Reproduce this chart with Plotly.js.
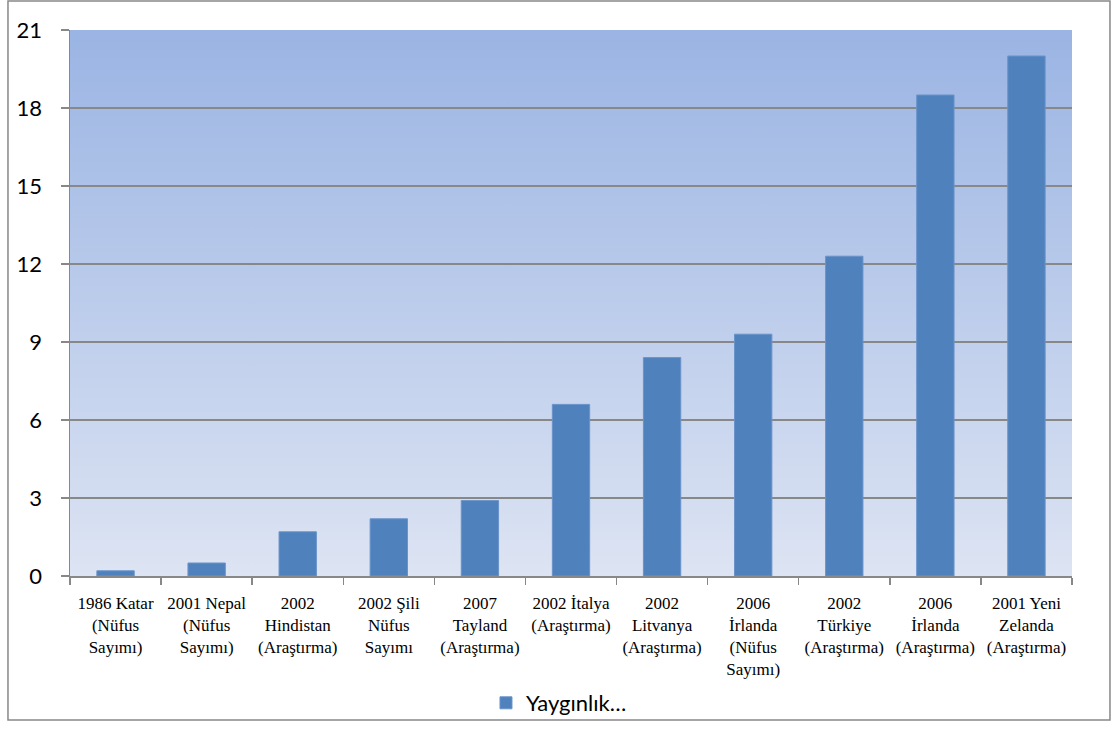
<!DOCTYPE html>
<html>
<head>
<meta charset="utf-8">
<script src="https://cdn.plot.ly/plotly-3.0.1.min.js"></script>
<style>
html,body{margin:0;padding:0;background:#fff;}
#chart{width:1119px;height:729px;}
</style>
</head>
<body>
<div id="chart"></div>
<script>
const categories = [
  "1986 Katar<br>(Nüfus<br>Sayımı)",
  "2001 Nepal<br>(Nüfus<br>Sayımı)",
  "2002<br>Hindistan<br>(Araştırma)",
  "2002 Şili<br>Nüfus<br>Sayımı",
  "2007<br>Tayland<br>(Araştırma)",
  "2002 İtalya<br>(Araştırma)",
  "2002<br>Litvanya<br>(Araştırma)",
  "2006<br>İrlanda<br>(Nüfus<br>Sayımı)",
  "2002<br>Türkiye<br>(Araştırma)",
  "2006<br>İrlanda<br>(Araştırma)",
  "2001 Yeni<br>Zelanda<br>(Araştırma)"
];
const prevalence = [0.2, 0.5, 1.7, 2.2, 2.9, 6.6, 8.4, 9.3, 12.3, 18.5, 20.0];
const seriesName = "Yaygınlık…";
const yTicks = [0, 3, 6, 9, 12, 15, 18, 21];

const gradSvg = '<svg xmlns="http://www.w3.org/2000/svg" width="100" height="100" preserveAspectRatio="none">' +
  '<defs><linearGradient id="g" x1="0" y1="0" x2="0" y2="1">' +
  '<stop offset="0" stop-color="#9AB4E3"/><stop offset="1" stop-color="#DDE4F3"/>' +
  '</linearGradient></defs><rect width="100" height="100" fill="url(#g)"/></svg>';
const gradSrc = 'data:image/svg+xml;base64,' + btoa(gradSvg);

const trace = {
  type: 'bar',
  x: categories,
  y: prevalence,
  name: seriesName,
  marker: {color: '#4F81BD', line: {color: '#6A93CA', width: 1}},
  showlegend: true
};

const layout = {
  width: 1119, height: 729,
  margin: {l: 70, r: 47, t: 30, b: 153, autoexpand: false},
  paper_bgcolor: '#ffffff',
  plot_bgcolor: 'rgba(0,0,0,0)',
  bargap: 0.59,
  showlegend: true,
  legend: {
    orientation: 'h', x: 0.488, xanchor: 'center', y: -0.2326, yanchor: 'middle',
    bgcolor: 'rgba(0,0,0,0)',
    font: {family: 'Lato, Open Sans, sans-serif', size: 22, color: '#000'},
    itemwidth: 30
  },
  xaxis: {
    type: 'category',
    tickson: 'boundaries',
    ticks: 'outside', ticklen: 7, tickcolor: '#888', tickwidth: 1.5,
    showline: true, linecolor: '#888', linewidth: 1.5,
    showgrid: false,
    tickangle: 0,
    ticklabelstandoff: 11,
    tickfont: {family: 'Liberation Serif', size: 17, color: '#000'},
    automargin: false
  },
  yaxis: {
    range: [0, 21],
    tickvals: yTicks,
    ticktext: yTicks.map(String),
    ticks: 'outside', ticklen: 8, tickcolor: '#888', tickwidth: 1.5,
    showline: true, linecolor: '#888', linewidth: 1.5,
    showgrid: true, gridcolor: '#888', gridwidth: 1.5,
    zeroline: false,
    ticklabelstandoff: 14,
    tickfont: {family: 'Lato, Open Sans, sans-serif', size: 22, color: '#000'},
    automargin: false
  },
  images: [{
    source: gradSrc, xref: 'paper', yref: 'paper', x: 0, y: 1,
    sizex: 1, sizey: 1, xanchor: 'left', yanchor: 'top',
    sizing: 'stretch', layer: 'below'
  }],
  shapes: [{
    type: 'rect', xref: 'paper', yref: 'paper',
    x0: -0.0619, x1: 1.0379, y0: -0.2637, y1: 1.0531,
    line: {color: '#888', width: 1.5}, fillcolor: 'rgba(0,0,0,0)', layer: 'below'
  }]
};

Plotly.newPlot('chart', [trace], layout, {displayModeBar: false, staticPlot: true});
</script>
</body>
</html>
